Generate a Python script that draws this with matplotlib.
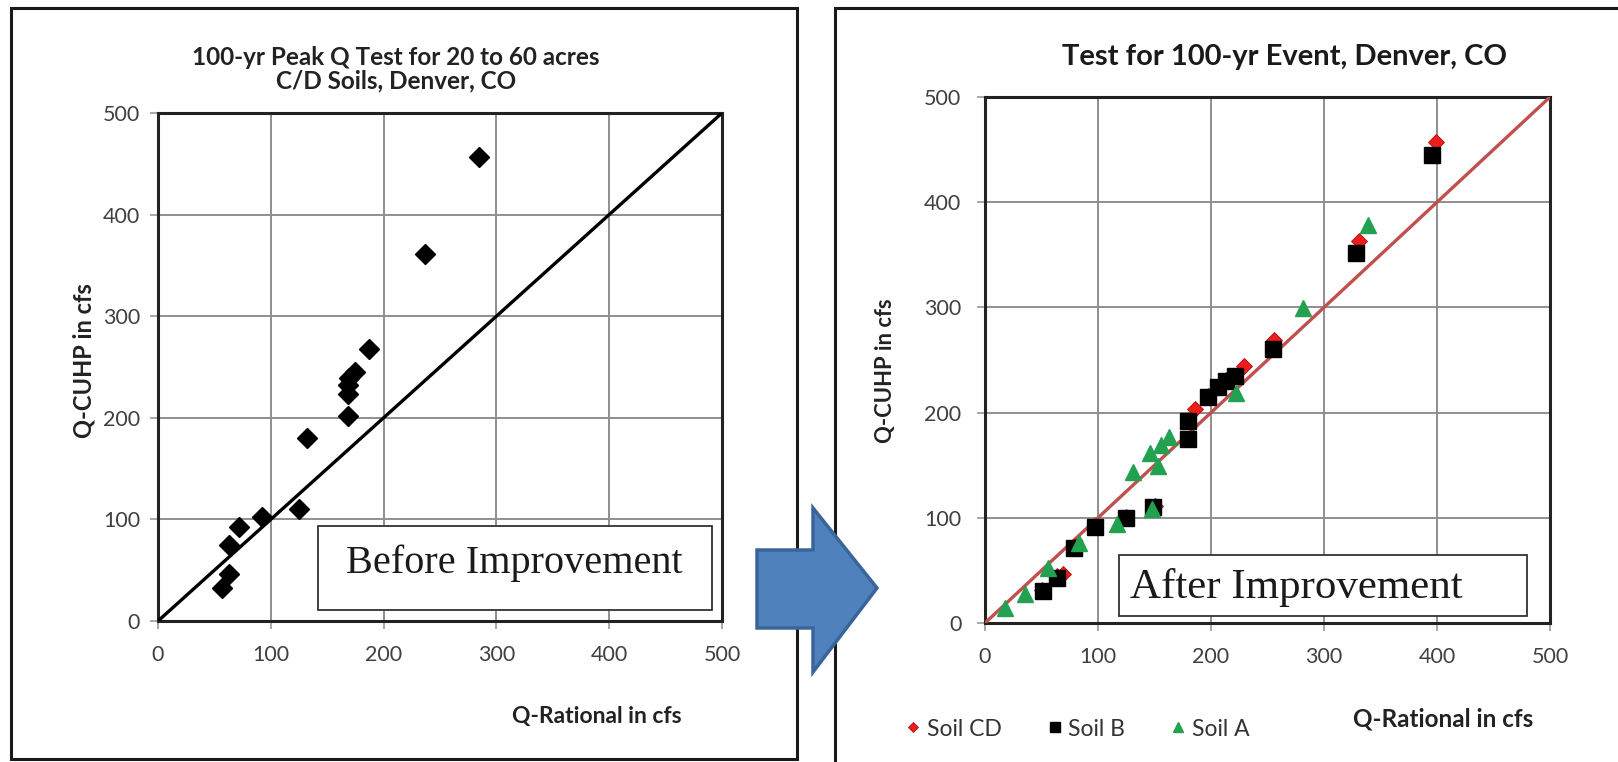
import matplotlib
matplotlib.use("Agg")
import matplotlib.pyplot as plt
from matplotlib.patches import Rectangle, Polygon

plt.rcParams["font.family"] = ["Lato", "DejaVu Sans"]

# before improvement: CUHP peak vs rational peak, 20-60 acre C/D soil catchments
before_rational = [57, 62.5, 63, 72, 92, 125, 132, 168.5, 168.5, 168, 169, 175, 187, 237, 285]
before_cuhp = [32, 46.5, 75, 93, 102, 110, 180, 201.5, 223, 232, 239, 245, 268, 361.5, 457]

# after improvement, by soil group
cd_rational = [50, 64, 69, 80, 97, 125, 150, 180, 186, 197, 213, 229, 255.5, 331, 399]
cd_cuhp = [31, 45, 47, 73, 92, 101, 111, 193, 203, 216, 231, 244, 269, 363, 457]

b_rational = [51, 64, 79, 97, 125, 149, 180, 180, 197, 206, 213, 221, 254.5, 328, 396]
b_cuhp = [30, 43, 71, 91, 100, 110, 175, 192, 215, 224, 230, 235, 260, 352, 445]

a_rational = [18, 35, 56, 83, 117, 148, 131, 146, 153, 156, 163, 222, 281, 339]
a_cuhp = [14, 28, 52, 76, 94, 108, 144, 162, 149, 169, 177, 219, 299, 378]

ticks = [0, 100, 200, 300, 400, 500]

W, H = 1618, 762
fig = plt.figure(figsize=(W / 100, H / 100), dpi=100)


def fx(px):
    return px / W


def fy(py):
    return 1 - py / H


# panel frames
fig.patches.append(Rectangle((fx(11), fy(759)), fx(786), 751 / H, transform=fig.transFigure,
                             fill=False, ec="#1a1a1a", lw=2.2, zorder=0))
fig.patches.append(Rectangle((fx(835), fy(800)), fx(900), 792 / H, transform=fig.transFigure,
                             fill=False, ec="#1a1a1a", lw=2.2, zorder=0))


def style_axes(ax, ypad):
    ax.set_xlim(0, 500)
    ax.set_ylim(0, 500)
    ax.set_xticks(ticks)
    ax.set_yticks(ticks)
    ax.grid(True, color="#8f8f8f", lw=1.4)
    ax.set_axisbelow(True)
    for s in ax.spines.values():
        s.set_color("#222222")
        s.set_linewidth(2.2)
    ax.tick_params(direction="out", length=6, width=1.2, color="#999999",
                   labelsize=15.5, labelcolor="#404040")
    ax.tick_params(axis="y", pad=ypad)
    ax.tick_params(axis="x", pad=11)


# left chart
ax1 = fig.add_axes([fx(158), fy(621), fx(564), 508 / H])
style_axes(ax1, 7)
ax1.plot([0, 500], [0, 500], color="black", lw=2.4, zorder=3)
ax1.plot(before_rational, before_cuhp, ls="none", marker="D", ms=10.5, color="black", zorder=4)
ax1.add_patch(Rectangle((0.284, 0.022), 0.698, 0.165, transform=ax1.transAxes,
                        fc="white", ec="#333333", lw=1.3, zorder=5))
ax1.text(0.632, 0.095, "Before Improvement", transform=ax1.transAxes, ha="center", va="baseline",
         family="Liberation Serif", fontsize=29, color="#1a1a1a", zorder=6)

fig.text(fx(396), fy(69), "100-yr Peak Q Test for 20 to 60 acres\nC/D Soils, Denver, CO",
         ha="center", va="center", fontsize=17.5, fontweight="bold", color="#222222",
         linespacing=1.05)
fig.text(fx(84), fy(361), "Q-CUHP in cfs", rotation=90, ha="center", va="center",
         fontsize=17, fontweight="bold", color="#222222")
fig.text(fx(597), fy(717), "Q-Rational in cfs", ha="center", va="center",
         fontsize=16.5, fontweight="bold", color="#222222")

# right chart
ax2 = fig.add_axes([fx(985), fy(623), fx(565), 526 / H])
style_axes(ax2, 11)
ax2.plot([0, 500], [0, 500], color="#c0504d", lw=2.4, zorder=3)
ax2.plot(cd_rational, cd_cuhp, ls="none", marker="D", ms=8, color="#ee1c1c",
         mec="#b01010", mew=0.6, zorder=4, label="Soil CD")
ax2.plot(b_rational, b_cuhp, ls="none", marker="s", ms=11, color="black", zorder=4, label="Soil B")
ax2.plot(a_rational, a_cuhp, ls="none", marker="^", ms=11, color="#22a250", zorder=4, label="Soil A")
ax2.add_patch(Rectangle((0.238, 0.013), 0.721, 0.116, transform=ax2.transAxes,
                        fc="white", ec="#333333", lw=1.3, zorder=5))
ax2.text(0.256, 0.048, "After Improvement", transform=ax2.transAxes, ha="left", va="baseline",
         family="Liberation Serif", fontsize=31, color="#1a1a1a", zorder=6)

fig.text(fx(1284), fy(57), "Test for 100-yr Event, Denver, CO", ha="center", va="center",
         fontsize=21, fontweight="bold", color="#1a1a1a")
fig.text(fx(885), fy(371), "Q-CUHP in cfs", rotation=90, ha="center", va="center",
         fontsize=15.8, fontweight="bold", color="#222222")
fig.text(fx(1443), fy(719), "Q-Rational in cfs", ha="center", va="center",
         fontsize=17.5, fontweight="bold", color="#222222")

fig.legend(*ax2.get_legend_handles_labels(), loc="center", bbox_to_anchor=(fx(1078), fy(729)),
           ncol=3, frameon=False, fontsize=16.5, markerscale=0.7, handlelength=0.6,
           handletextpad=0.3, columnspacing=2.0, labelcolor="#333333")

# block arrow between the two panels
arrow = [(757, 550), (813, 550), (813, 508), (877, 588), (813, 672), (813, 628), (757, 628)]
fig.patches.append(Polygon([(fx(x), fy(y)) for x, y in arrow], closed=True,
                           transform=fig.transFigure, fc="#4f81bd", ec="#3a659a", lw=2.5,
                           zorder=10))

fig.savefig("out.png", dpi=100)
